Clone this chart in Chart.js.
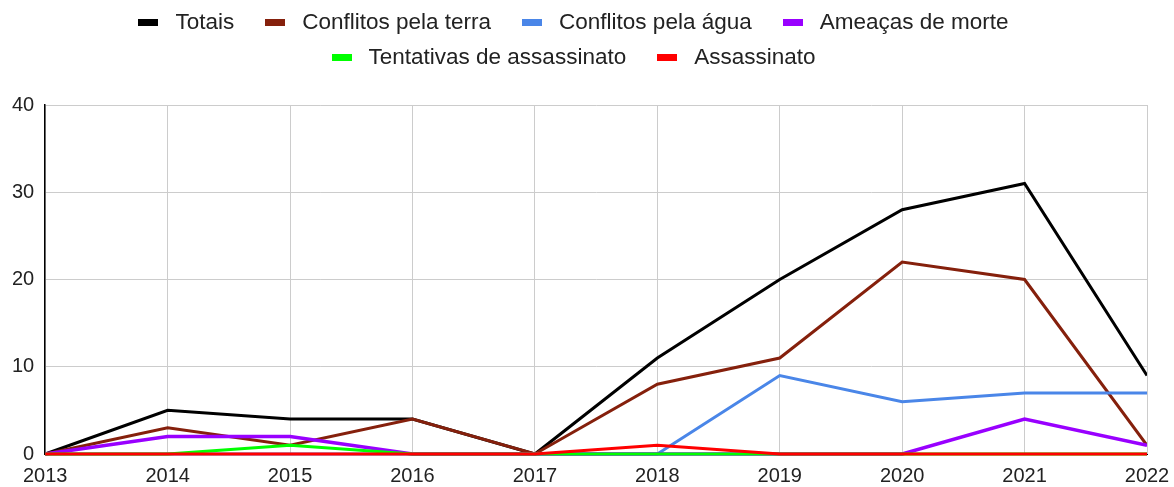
<!DOCTYPE html>
<html>
<head>
<meta charset="utf-8">
<script src="https://cdn.jsdelivr.net/npm/chart.js@4"></script>
<style>
  body { margin: 0; background: #fff; font-family: "Liberation Sans", Arial, sans-serif; overflow: hidden; }
  #wrap { position: relative; width: 1174px; height: 487px; }
  #legend {
    position: absolute; top: 10px; left: 118px; width: 911px;
    font-size: 22.5px; line-height: 24px; color: #222;
  }
  .row { display: flex; justify-content: center; column-gap: 31px; height: 24px; margin-bottom: 11px; }
  .item { display: flex; align-items: center; white-space: nowrap; }
  .box { width: 20px; height: 7px; margin-right: 17px; }
</style>
</head>
<body>
<div id="wrap">
  <canvas id="chart" width="1174" height="487"></canvas>
  <div id="legend"><div class="row" id="row1"></div><div class="row" id="row2"></div></div>
</div>
<script>
// Data
const years = ['2013', '2014', '2015', '2016', '2017', '2018', '2019', '2020', '2021', '2022'];
const totais = [0, 5, 4, 4, 0, 11, 20, 28, 31, 9];
const conflitosTerra = [0, 3, 1, 4, 0, 8, 11, 22, 20, 1];
const conflitosAgua = [0, 0, 0, 0, 0, 0, 9, 6, 7, 7];
const ameacas = [0, 2, 2, 0, 0, 0, 0, 0, 4, 1];
const tentativas = [0, 0, 1, 0, 0, 0, 0, 0, 0, 0];
const assassinato = [0, 0, 0, 0, 0, 1, 0, 0, 0, 0];
const yTicks = [0, 10, 20, 30, 40];

const seriesNames = ['Totais', 'Conflitos pela terra', 'Conflitos pela água', 'Ameaças de morte', 'Tentativas de assassinato', 'Assassinato'];
const seriesData = [totais, conflitosTerra, conflitosAgua, ameacas, tentativas, assassinato];
const seriesColors = ['#000000', '#85200c', '#4a86e8', '#9900ff', '#00ff00', '#ff0000'];

// html legend, first four on row one, the rest on row two
seriesNames.forEach((name, i) => {
    const item = document.createElement('div');
    item.className = 'item';
    item.innerHTML = '<span class="box" style="background:' + seriesColors[i] + '"></span>' + name;
    document.getElementById(i < 4 ? 'row1' : 'row2').appendChild(item);
});

const datasets = seriesNames.map((name, i) => ({
    label: name,
    data: seriesData[i],
    borderColor: seriesColors[i],
    backgroundColor: seriesColors[i],
    borderWidth: i === 3 ? 3.5 : 3,
    pointRadius: 0,
    tension: 0,
    fill: false,
    clip: { left: 5, top: 5, right: 0, bottom: 5 },
    order: seriesNames.length - i   // later series drawn on top
}));

const tickFont = { family: '"Liberation Sans", Arial, sans-serif', size: 20 };

new Chart(document.getElementById('chart').getContext('2d'), {
    type: 'line',
    data: { labels: years, datasets: datasets },
    options: {
        responsive: false,
        animation: false,
        layout: { padding: { top: 105, left: 1, right: 27, bottom: -11 } },
        plugins: {
            legend: { display: false },
            tooltip: { enabled: false }
        },
        scales: {
            x: {
                offset: false,
                grid: { color: '#cccccc', drawTicks: false },
                border: { color: '#000000', width: 1 },
                ticks: { color: '#222', font: tickFont, padding: 10, maxRotation: 0, autoSkip: false },
                afterFit: scale => { scale.paddingRight = 0; }
            },
            y: {
                min: 0,
                max: 40,
                afterBuildTicks: axis => { axis.ticks = yTicks.map(v => ({ value: v })); },
                grid: { color: '#cccccc', drawTicks: false },
                border: { color: '#000000', width: 1.5 },
                ticks: { color: '#222', font: tickFont, padding: 11 }
            }
        }
    }
});
</script>
</body>
</html>
